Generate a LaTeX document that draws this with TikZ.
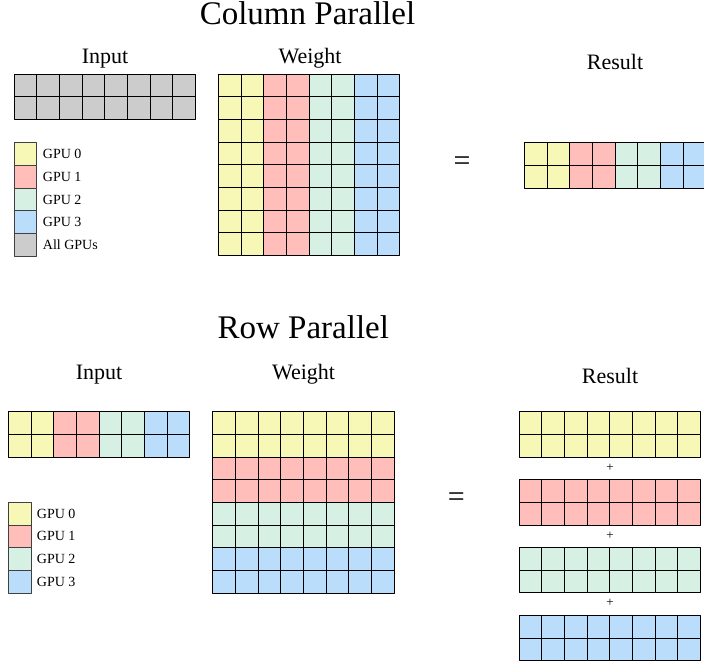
\documentclass[tikz,border=0pt]{standalone}
\usepackage{fontspec}
\setmainfont{Liberation Serif}
\definecolor{gpuzero}{RGB}{248,248,182}
\definecolor{gpuone}{RGB}{255,190,185}
\definecolor{gputwo}{RGB}{214,241,228}
\definecolor{gputhree}{RGB}{187,221,252}
\definecolor{gpuall}{RGB}{204,204,204}
\tikzset{
  cell/.style={draw=black,line width=0.9pt},
  keybox/.style={draw=black!75,line width=0.9pt},
  heading/.style={anchor=base,inner sep=0pt,font=\fontsize{33}{38}\selectfont},
  caption/.style={anchor=base,inner sep=0pt,font=\fontsize{22}{26}\selectfont},
  keytext/.style={anchor=west,inner sep=0pt,font=\fontsize{14}{16}\selectfont},
  opsign/.style={inner sep=0pt,font=\fontsize{30}{34}\selectfont},
  plussign/.style={inner sep=0pt,font=\fontsize{13}{15}\selectfont}
}
\begin{document}
\begin{tikzpicture}[x=1pt,y=-1pt,line join=round]
  \def\c{22.7}
  \useasboundingbox (0,0) rectangle (704,663);
  \clip (0,0) rectangle (704,663);

  % ---- column parallel ----
  \node[heading] (coltitle) at (307.5,25) {Column Parallel};
  \node[caption] (colinput) at (105,64) {Input};
  \node[caption] (colweight) at (310,64) {Weight};
  \node[caption] (colresult) at (615,70) {Result};
  % input, all gpus
  \foreach \i in {0,...,7}
    \foreach \j in {0,1}
      \draw[cell,fill=gpuall] ({14+\i*\c},{74+\j*\c}) rectangle ++(\c,\c);
  % weight split by columns
  \foreach \k/\col in {0/gpuzero,1/gpuone,2/gputwo,3/gputhree} {
    \foreach \i in {0,1} {
      \foreach \j in {0,...,7}
        \draw[cell,fill=\col] ({218.3+(2*\k+\i)*\c},{74+\j*\c}) rectangle ++(\c,\c);
      \foreach \j in {0,1}
        \draw[cell,fill=\col] ({524.3+(2*\k+\i)*\c},{142.7+\j*\c}) rectangle ++(\c,\c);
    }
  }
  \node[opsign] (coleq) at (462,163.3) {=};
  % legend
  \foreach \k/\col/\txt in {0/gpuzero/GPU 0,1/gpuone/GPU 1,2/gputwo/GPU 2,3/gputhree/GPU 3,4/gpuall/All GPUs} {
    \draw[keybox,fill=\col] ({14},{142.7+\k*\c}) rectangle ++(\c,\c);
    \node[keytext] (colkey\k) at ({42.7},{142.7+\k*\c+\c/2}) {\txt};
  }

  % ---- row parallel ----
  \node[heading] (rowtitle) at (303.3,338.3) {Row Parallel};
  \node[caption] (rowinput) at (99,379) {Input};
  \node[caption] (rowweight) at (303.5,379) {Weight};
  \node[caption] (rowresult) at (610,383.3) {Result};
  \foreach \k/\col in {0/gpuzero,1/gpuone,2/gputwo,3/gputhree} {
    % input split by columns
    \foreach \i in {0,1}
      \foreach \j in {0,1}
        \draw[cell,fill=\col] ({8.3+(2*\k+\i)*\c},{411.7+\j*\c}) rectangle ++(\c,\c);
    % weight split by rows
    \foreach \i in {0,...,7}
      \foreach \j in {0,1}
        \draw[cell,fill=\col] ({212.7+\i*\c},{411.7+(2*\k+\j)*\c}) rectangle ++(\c,\c);
    % partial results
    \foreach \i in {0,...,7}
      \foreach \j in {0,1}
        \draw[cell,fill=\col] ({519+\i*\c},{411.7+\k*67.9+\j*\c}) rectangle ++(\c,\c);
  }
  \foreach \k in {0,1,2}
    \node[plussign] (plus\k) at ({610},{467.5+\k*67.9}) {+};
  \node[opsign] (roweq) at (456.3,500) {=};
  % legend
  \foreach \k/\col/\txt in {0/gpuzero/GPU 0,1/gpuone/GPU 1,2/gputwo/GPU 2,3/gputhree/GPU 3} {
    \draw[keybox,fill=\col] ({8.3},{502.3+\k*\c}) rectangle ++(\c,\c);
    \node[keytext] (rowkey\k) at ({36.7},{502.3+\k*\c+\c/2}) {\txt};
  }
\end{tikzpicture}
\end{document}
